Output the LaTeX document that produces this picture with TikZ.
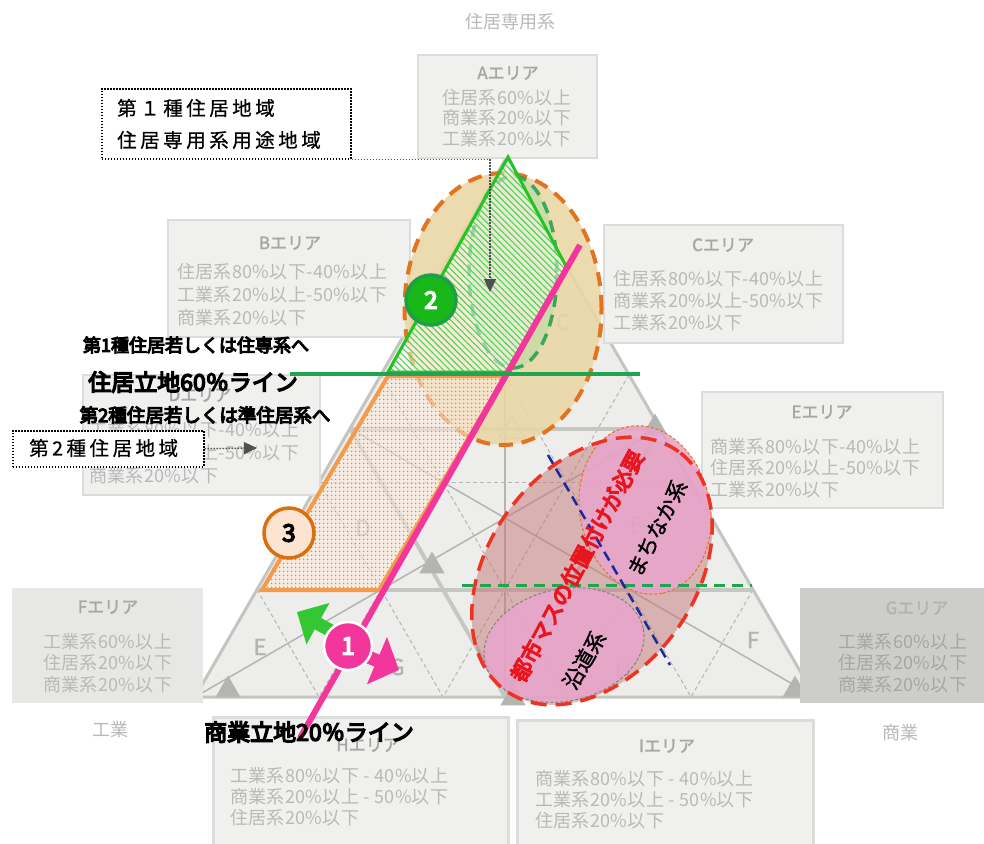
\documentclass[tikz,border=0pt]{standalone}
\usepackage{fontspec}
\setmainfont{Noto Sans CJK JP}
\newfontfamily\jp{Noto Sans CJK JP}
\newfontfamily\jpbody[LetterSpace=2]{Noto Sans CJK JP}
\newfontfamily\jpmid[FakeBold=1.5]{Noto Sans CJK JP}
\newfontfamily\jpbold[FakeBold=6]{Noto Sans CJK JP}
\newfontfamily\jpsp[LetterSpace=18,FakeBold=0.6]{Noto Sans CJK JP}
\usetikzlibrary{patterns,patterns.meta,shapes.geometric,arrows.meta,calc}
\definecolor{boxfill}{HTML}{F0F0EE}
\definecolor{boxline}{HTML}{DCDCDA}
\definecolor{boxfillF}{HTML}{E7E7E5}
\definecolor{boxfillG}{HTML}{CDCDC9}
\definecolor{titlegrey}{HTML}{A6A6A4}
\definecolor{bodygrey}{HTML}{B9B9B7}
\definecolor{trifill}{HTML}{EDEDEB}
\definecolor{triline}{HTML}{C4C4C0}
\definecolor{gridgrey}{HTML}{B4B4B0}
\definecolor{gridthickc}{HTML}{C6C6C2}
\definecolor{markgrey}{HTML}{B4B4B0}
\definecolor{tanfill}{HTML}{EAD7A4}
\definecolor{orangedash}{HTML}{E2731F}
\definecolor{hatchgreen}{HTML}{55D055}
\definecolor{greenline}{HTML}{22C322}
\definecolor{greensixty}{HTML}{1FA550}
\definecolor{greendash}{HTML}{1E9E50}
\definecolor{lightgreen}{HTML}{A8DCA0}
\definecolor{orangeedge}{HTML}{F5994A}
\definecolor{orangedot}{HTML}{E08A50}
\definecolor{peach}{HTML}{FBEADB}
\definecolor{hotpink}{HTML}{F2369C}
\definecolor{redd}{HTML}{EE3322}
\definecolor{redtext}{HTML}{E8141E}
\definecolor{mauve}{HTML}{C47878}
\definecolor{pinkfill}{HTML}{E7A5CB}
\definecolor{bluedash}{HTML}{1A2A9E}
\definecolor{arrowgreen}{HTML}{33C833}
\definecolor{circgreen}{HTML}{18B818}
\definecolor{circgreenb}{HTML}{1E9E4A}
\definecolor{circorange}{HTML}{D9700F}
\definecolor{circpeach}{HTML}{FCE4D0}
\definecolor{darkarrow}{HTML}{505050}
\tikzset{
  areabox/.style={draw=boxline, line width=2pt, fill=boxfill, anchor=north west, inner sep=0pt, outer sep=0pt},
  areatitle/.style={text=titlegrey, font=\jpmid\fontsize{17}{17}\selectfont, inner sep=0pt},
  areabody/.style={text=bodygrey, font=\jpbody\fontsize{18}{#1}\selectfont, align=left, anchor=west, inner sep=0pt},
  areabody/.default=21.5,
  griddash/.style={draw=gridgrey, line width=1pt, dash pattern=on 4pt off 3pt},
  gridthin/.style={draw=gridgrey, line width=1.5pt},
  gridthick/.style={draw=gridthickc, line width=4pt},
  gmark/.style={regular polygon, regular polygon sides=3, fill=markgrey, minimum size=29pt, inner sep=0pt},
  gletter/.style={text=gridgrey, font=\jpmid\fontsize{22}{22}\selectfont, inner sep=0pt},
  heavy/.style={text=black, inner sep=0pt},
  dotbox/.style={draw=black, line width=1.5pt, dash pattern=on 1.5pt off 1.5pt, fill=white, anchor=north west, inner sep=0pt},
  notetext/.style={font=\jpsp\fontsize{19.5}{19.5}\selectfont, anchor=west, inner sep=0pt},
  dotconn/.style={draw=darkarrow, line width=1.4pt, dash pattern=on 1.5pt off 1.5pt, -{Triangle[width=12pt,length=13pt]}},
  sidelabel/.style={text=bodygrey, font=\jp\fontsize{18}{18}\selectfont, inner sep=0pt}
}
\begin{document}
\begin{tikzpicture}[x=1pt,y=-1pt]
\useasboundingbox (0,0) rectangle (984,843);
\fill[white] (0,0) rectangle (984,843);

% ---------- background ternary triangle ----------
\coordinate (T) at (505,160);
\coordinate (L) at (195,697);
\coordinate (R) at (815,697);
\fill[trifill] (T) -- (L) -- (R) -- cycle;
\foreach \v/\w in {0.2/0.8,0.4/0.6,0.6/0.4,0.8/0.2}{
  \draw[griddash] (barycentric cs:T=\v,L=\w) -- (barycentric cs:T=\v,R=\w);
  \draw[griddash] (barycentric cs:L=\v,T=\w) -- (barycentric cs:L=\v,R=\w);
  \draw[griddash] (barycentric cs:R=\v,T=\w) -- (barycentric cs:R=\v,L=\w);
}
\draw[gridthin] (T) -- (barycentric cs:L=1,R=1);
\draw[gridthin] (L) -- (barycentric cs:T=1,R=1);
\draw[gridthin] (R) -- (barycentric cs:T=1,L=1);
\draw[gridthick] (barycentric cs:T=.5,L=.5) -- (barycentric cs:T=.5,R=.5);
\draw[gridthick] (barycentric cs:T=.2,L=.8) -- (barycentric cs:T=.2,R=.8);
\draw[gridthick] (barycentric cs:T=.5,L=.5) -- (barycentric cs:L=.5,R=.5) -- (barycentric cs:T=.5,R=.5);
\draw[draw=triline, line width=3pt] (T) -- (L) -- (R) -- cycle;

\node[gmark] (mk1) at (228,690) {};
\node[gmark] (mk2) at (795,690) {};
\node[gmark] (mk3) at (432,566) {};
\node[gmark] (mk4) at (513,698) {};
\node[gmark] (mk5) at (655,428) {};
\node[gmark, fill=none, draw=markgrey, line width=1.5pt] (mk6) at (512,431) {};

\node[gletter] (lC) at (563,322) {C};
\node[gletter] (lD) at (363,528) {D};
\node[gletter] (lE1) at (260,647) {E};
\node[gletter] (lG) at (397,667) {G};
\node[gletter] (lE2) at (636,525) {E};
\node[gletter] (lH) at (623,670) {H};
\node[gletter] (lF) at (753,640) {F};

% ---------- area boxes ----------
\node[sidelabel] (topLab) at (510,22) {住居専用系};
\node[sidelabel] (indLab) at (110,730) {工業};
\node[sidelabel] (comLab) at (900,733) {商業};

\node[areabox, minimum width=179pt, minimum height=103pt] (boxA) at (418,55) {};
\node[areatitle] (titleA) at (508,73) {Aエリア};
\node[areabody=20.5] (bodyA) at (442,118) {住居系60\%以上\\商業系20\%以下\\工業系20\%以下};

\node[areabox, minimum width=242pt, minimum height=117pt] (boxB) at (168,220) {};
\node[areatitle] (titleB) at (290,243) {Bエリア};
\node[areabody=23] (bodyB) at (177,295) {住居系80\%以下-40\%以上\\工業系20\%以上-50\%以下\\商業系20\%以下};

\node[areabox, minimum width=239pt, minimum height=118pt] (boxC) at (604,225) {};
\node[areatitle] (titleC) at (723,245) {Cエリア};
\node[areabody=22] (bodyC) at (613,301) {住居系80\%以下-40\%以上\\商業系20\%以上-50\%以下\\工業系20\%以下};

\node[areabox, minimum width=237pt, minimum height=120pt] (boxD) at (83,375) {};
\node[areatitle] (titleD) at (200,395) {Dエリア};
\node[areabody=23] (bodyD) at (89,453) {工業系80\%以下-40\%以上\\住居系20\%以上-50\%以下\\商業系20\%以下};

\node[areabox, minimum width=241pt, minimum height=116pt] (boxE) at (702,392) {};
\node[areatitle] (titleE) at (822,412) {Eエリア};
\node[areabody=21.5] (bodyE) at (710,468) {商業系80\%以下-40\%以上\\住居系20\%以上-50\%以下\\工業系20\%以下};

\node[areabox, draw=none, fill=boxfillF, minimum width=191pt, minimum height=115pt] (boxF) at (12,588) {};
\node[areatitle] (titleF) at (108,607) {Fエリア};
\node[areabody=21.5] (bodyF) at (43,663) {工業系60\%以上\\住居系20\%以下\\商業系20\%以下};

\node[areabox, draw=none, fill=boxfillG, minimum width=190pt, minimum height=115pt] (boxG) at (800,588) {};
\node[areatitle, text=titlegrey!85] (titleG) at (917,608) {Gエリア};
\node[areabody=21.5, text=titlegrey] (bodyG) at (838,663) {工業系60\%以上\\住居系20\%以下\\商業系20\%以下};

\node[areabox, line width=3pt, minimum width=295pt, minimum height=135pt] (boxH) at (213,717) {};
\node[areatitle] (titleH) at (368,745) {Hエリア};
\node[areabody=21] (bodyH) at (230,797) {工業系80\%以下 - 40\%以上\\商業系20\%以上 - 50\%以下\\住居系20\%以下};

\node[areabox, line width=3pt, minimum width=296pt, minimum height=135pt] (boxI) at (517,720) {};
\node[areatitle] (titleI) at (667,746) {Iエリア};
\node[areabody=21] (bodyI) at (535,800) {商業系80\%以下 - 40\%以上\\工業系20\%以上 - 50\%以下\\住居系20\%以下};

% ---------- residential zone (2) ----------
\node[ellipse, minimum width=197pt, minimum height=272pt, fill=tanfill, fill opacity=0.88, draw=orangedash, line width=4pt, dash pattern=on 14pt off 9pt] (resEll) at (503,309) {};
\node[ellipse, minimum width=88pt, minimum height=192pt, fill=lightgreen, fill opacity=0.45, draw=greendash, draw opacity=0.85, line width=3.5pt, dash pattern=on 12pt off 8pt] (greenEll) at (513,272) {};
\fill[white, fill opacity=0.5] (508,157) -- (567,268) -- (507,372) -- (388,372) -- cycle;
\fill[pattern={Lines[angle=-45,distance=4.5pt,line width=1.1pt]}, pattern color=hatchgreen] (508,157) -- (567,268) -- (507,372) -- (388,372) -- cycle;
\draw[greenline, line width=3pt, line join=miter] (508,157) -- (567,268) -- (507,372) -- (388,372) -- cycle;

% ---------- zone (3) ----------
\fill[peach, fill opacity=0.6] (388,376) -- (505,376) -- (379,590) -- (262,590) -- cycle;
\fill[pattern={Dots[distance=4pt,radius=1pt]}, pattern color=orangedot] (388,376) -- (505,376) -- (379,590) -- (262,590) -- cycle;
\draw[orangeedge, line width=4pt, line join=miter] (388,376) -- (505,376) -- (379,590) -- (262,590) -- cycle;

% ---------- commercial mass zone ----------
\node[ellipse, minimum width=295pt, minimum height=206pt, rotate=54, fill=mauve, fill opacity=0.5] (massFill) at (592,571) {};
\node[ellipse, minimum width=170pt, minimum height=130pt, rotate=-78, fill=pinkfill, fill opacity=0.88, draw=orangedash, line width=1pt, dash pattern=on 3pt off 2pt] (machiEll) at (645,510) {};
\node[ellipse, minimum width=162pt, minimum height=112pt, rotate=12, fill=pinkfill, fill opacity=0.88, draw=gray, line width=1pt, dash pattern=on 3pt off 2pt] (endoEll) at (564,645) {};
\node[ellipse, minimum width=295pt, minimum height=206pt, rotate=54, draw=redd, line width=3.5pt, dash pattern=on 16pt off 9pt] (massEdge) at (592,571) {};

\coordinate (gd0) at (462,585);
\coordinate (gd1) at (752,585);
\draw[greensixty, line width=3pt, dash pattern=on 11pt off 7pt] (gd0) -- (gd1);
\coordinate (bd0) at (548,455);
\coordinate (bd1) at (670,665);
\draw[bluedash, line width=2.5pt, dash pattern=on 10pt off 6pt] (bd0) -- (bd1);

\node[rotate=62, text=redtext, font=\jpbold\fontsize{21.5}{21.5}\selectfont, inner sep=0pt] (massText) at (577,566) {都市マスの位置付けが必要};
\node[rotate=63, font=\jpmid\fontsize{21}{21}\selectfont, inner sep=0pt] (machiText) at (657,528) {まちなか系};
\node[rotate=60, font=\jpmid\fontsize{21}{21}\selectfont, inner sep=0pt] (endoText) at (584,660) {沿道系};

% ---------- lines ----------
\coordinate (pk0) at (580,245);
\coordinate (pk1) at (300,738);
\draw[hotpink, line width=6pt] (pk0) -- (pk1);
\coordinate (g60a) at (290,374);
\coordinate (g60b) at (640,374);
\draw[greensixty, line width=3.5pt] (g60a) -- (g60b);

% ---------- arrows and circles ----------
\coordinate (ga0) at (342,637);
\coordinate (ga1) at (297,612);
\draw[arrowgreen, line width=13pt, -{Triangle[width=46pt,length=24pt]}] (ga0) -- (ga1);
\coordinate (pa0) at (352,650);
\coordinate (pa1) at (399,670);
\draw[hotpink, line width=13pt, -{Triangle[width=50pt,length=24pt]}] (pa0) -- (pa1);

\node[circle, fill=circgreen, draw=circgreenb, line width=3.5pt, minimum size=50pt, inner sep=0pt, text=white, font=\jpbold\fontsize{24}{24}\selectfont] (c2) at (431,300) {2};
\node[circle, fill=circpeach, draw=circorange, line width=3.5pt, minimum size=50pt, inner sep=0pt, text=black, font=\jpbold\fontsize{24}{24}\selectfont] (c3) at (289,533) {3};
\node[circle, fill=hotpink, draw=white, line width=2.5pt, minimum size=48pt, inner sep=0pt, text=white, font=\jpbold\fontsize{24}{24}\selectfont] (c1) at (348,646) {1};

% ---------- heavy labels ----------
\node[heavy, font=\jpbold\fontsize{18}{18}\selectfont] (lab1) at (196,345) {第1種住居若しくは住専系へ};
\node[heavy, font=\jpbold\fontsize{23}{23}\selectfont] (lab2) at (193,382) {住居立地60％ライン};
\node[heavy, font=\jpbold\fontsize{18.5}{18.5}\selectfont] (lab3) at (205,415) {第2種住居若しくは準住居系へ};
\node[heavy, font=\jpbold\fontsize{23}{23}\selectfont] (lab4) at (309,732) {商業立地20％ライン};

% ---------- dotted notes ----------
\node[dotbox, minimum width=249pt, minimum height=70pt] (note1) at (101,88) {};
\node[notetext] (note1a) at (117,108) {第１種住居地域};
\node[notetext] (note1b) at (117,140) {住居専用系用途地域};
\coordinate (tip1) at (490,292);
\draw[dotconn] (note1.south east) -| (tip1);

\node[dotbox, minimum width=191pt, minimum height=36pt] (note2) at (12,430) {};
\node[notetext] (note2a) at (29,448) {第2種住居地域};
\coordinate (tip2) at (257,448);
\draw[dotconn] (note2.east) -- (tip2);
\end{tikzpicture}
\end{document}
